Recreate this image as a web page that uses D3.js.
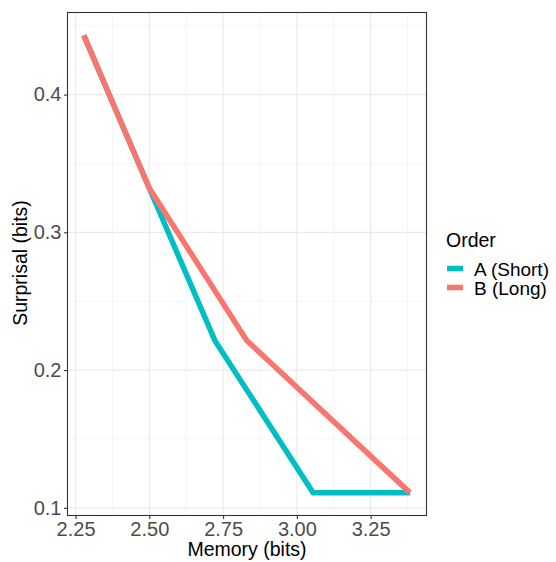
<!DOCTYPE html>
<html><head><meta charset="utf-8">
<script src="https://cdn.jsdelivr.net/npm/d3@7"></script>
<style>body{margin:0;background:#fff}text{font-family:"Liberation Sans",Arial,sans-serif}</style>
</head><body><svg id="c" width="556" height="562"></svg>
<script>
const seriesNames = ["A (Short)", "B (Long)"];
const colors = ["#00BFC4", "#F8766D"];
const memoryA = [2.278, 2.50, 2.722, 3.055, 3.384];
const surprisalA = [0.443, 0.332, 0.2215, 0.111, 0.111];
const memoryB = [2.278, 2.50, 2.830, 3.383];
const surprisalB = [0.443, 0.332, 0.2215, 0.111];
const xTicks = [2.25, 2.50, 2.75, 3.00, 3.25];
const yTicks = [0.1, 0.2, 0.3, 0.4];
const xMinor = [2.125, 2.375, 2.625, 2.875, 3.125, 3.375];
const yMinor = [0.15, 0.25, 0.35, 0.45];

const svg = d3.select("#c");
const L = 67.5, R = 426.5, T = 12.5, B = 515.5;
const allX = memoryA.concat(memoryB), allY = surprisalA.concat(surprisalB);
const [x0, x1] = d3.extent(allX), [y0, y1] = d3.extent(allY);
const ex = (x1 - x0) * 0.05, ey = (y1 - y0) * 0.05;
const x = d3.scaleLinear().domain([x0 - ex, x1 + ex]).range([L, R]);
const y = d3.scaleLinear().domain([y0 - ey, y1 + ey]).range([B, T]);

const g = svg.append("g");
g.append("rect").attr("x", L).attr("y", T).attr("width", R - L).attr("height", B - T).attr("fill", "#fff");
const minorCol = "#F2F2F2", majorCol = "#EBEBEB";
g.selectAll(".xm").data(xMinor.filter(v => x(v) > L && x(v) < R)).join("line")
  .attr("x1", d => x(d)).attr("x2", d => x(d)).attr("y1", T).attr("y2", B).attr("stroke", minorCol).attr("stroke-width", 0.8);
g.selectAll(".ym").data(yMinor.filter(v => y(v) > T && y(v) < B)).join("line")
  .attr("y1", d => y(d)).attr("y2", d => y(d)).attr("x1", L).attr("x2", R).attr("stroke", minorCol).attr("stroke-width", 0.8);
g.selectAll(".xM").data(xTicks).join("line")
  .attr("x1", d => x(d)).attr("x2", d => x(d)).attr("y1", T).attr("y2", B).attr("stroke", majorCol).attr("stroke-width", 1.2);
g.selectAll(".yM").data(yTicks).join("line")
  .attr("y1", d => y(d)).attr("y2", d => y(d)).attr("x1", L).attr("x2", R).attr("stroke", majorCol).attr("stroke-width", 1.2);

const line = d3.line().x(d => x(d[0])).y(d => y(d[1]));
const dataB = memoryB.map((m, i) => [m, surprisalB[i]]);
const dataA = memoryA.map((m, i) => [m, surprisalA[i]]);
g.append("path").datum(dataA).attr("d", line).attr("fill", "none").attr("stroke", colors[0]).attr("stroke-width", 5.5);
g.append("path").datum(dataB).attr("d", line).attr("fill", "none").attr("stroke", colors[1]).attr("stroke-width", 5.5);

g.append("rect").attr("x", L).attr("y", T).attr("width", R - L).attr("height", B - T).attr("fill", "none").attr("stroke", "#333").attr("stroke-width", 1.1);

const xAxis = svg.append("g").attr("transform", `translate(0,${B})`)
  .call(d3.axisBottom(x).tickValues(xTicks).tickFormat(d3.format(".2f")).tickSize(3.5).tickPadding(2.5));
const yAxis = svg.append("g").attr("transform", `translate(${L},0)`)
  .call(d3.axisLeft(y).tickValues(yTicks).tickFormat(d3.format(".1f")).tickSize(3.5).tickPadding(2.5));
[xAxis, yAxis].forEach(a => {
  a.select(".domain").remove();
  a.selectAll(".tick line").attr("stroke", "#333").attr("stroke-width", 1.1);
  a.selectAll(".tick text").attr("fill", "#4D4D4D").style("font-size", "20px").style("font-family", '"Liberation Sans",Arial,sans-serif');
});

svg.append("text").attr("x", (L + R) / 2).attr("y", 556).attr("text-anchor", "middle")
  .style("font-size", "19.5px").attr("fill", "#000").text("Memory (bits)");
svg.append("text").attr("transform", `translate(27,${(T + B) / 2 - 1}) rotate(-90)`).attr("text-anchor", "middle")
  .style("font-size", "19.5px").attr("fill", "#000").text("Surprisal (bits)");

const lg = svg.append("g").attr("transform", "translate(446,0)");
lg.append("text").attr("x", 0).attr("y", 246.5).style("font-size", "19.5px").text("Order");
seriesNames.forEach((s, i) => {
  const yy = 268.5 + i * 19;
  lg.append("line").attr("x1", 1).attr("x2", 17).attr("y1", yy).attr("y2", yy).attr("stroke", colors[i]).attr("stroke-width", 5.5);
  lg.append("text").attr("x", 28).attr("y", yy + 7).style("font-size", "19px").text(s);
});
</script></body></html>
